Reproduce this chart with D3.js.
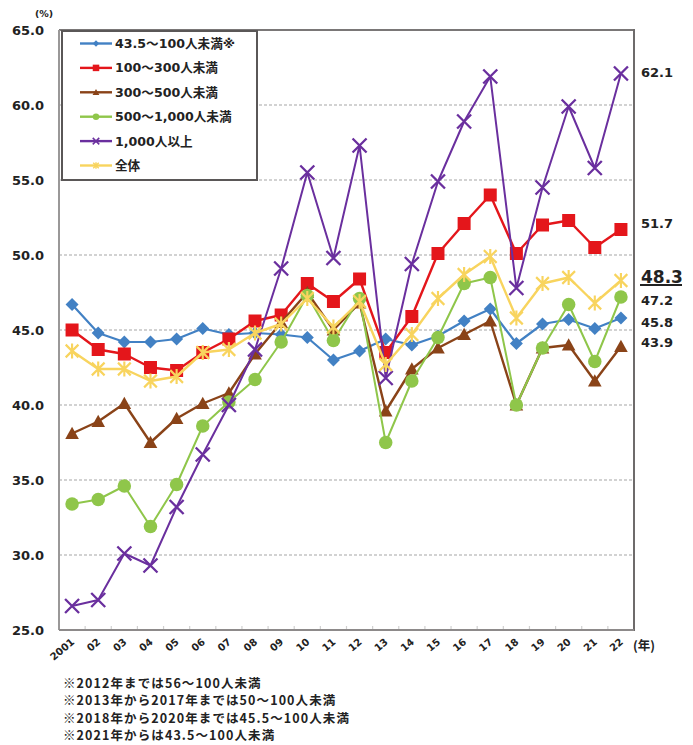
<!DOCTYPE html>
<html>
<head>
<meta charset="utf-8">
<script src="https://cdn.jsdelivr.net/npm/d3@7"></script>
<style>
  html, body { margin: 0; padding: 0; background: #fff; }
  svg { display: block; }
  text { font-family: "DejaVu Sans", "Noto Sans CJK JP", sans-serif; fill: #222; }
  .jp { font-family: "Noto Sans CJK JP", "DejaVu Sans", sans-serif; }
</style>
</head>
<body>
<svg id="chart" width="682" height="745"></svg>
<script>
// Categories (survey years)
const years = ["2001","02","03","04","05","06","07","08","09","10","11","12","13","14","15","16","17","18","19","20","21","22"];

// Series names (legend order)
const seriesNames = ["43.5～100人未満※","100～300人未満","300～500人未満","500～1,000人未満","1,000人以上","全体"];

// Series values (%)
const s100   = [46.7,44.8,44.2,44.2,44.4,45.1,44.7,44.8,44.7,44.5,43.0,43.6,44.4,44.0,44.6,45.6,46.4,44.1,45.4,45.7,45.1,45.8];
const s300   = [45.0,43.7,43.4,42.5,42.3,43.5,44.4,45.6,46.0,48.1,46.9,48.4,43.5,45.9,50.1,52.1,54.0,50.1,52.0,52.3,50.5,51.7];
const s500   = [38.1,38.9,40.1,37.5,39.1,40.1,40.8,43.4,45.5,47.5,45.0,46.8,39.6,42.4,43.8,44.7,45.6,40.0,43.8,44.0,41.6,43.9];
const s1000  = [33.4,33.7,34.6,31.9,34.7,38.6,40.2,41.7,44.2,47.3,44.3,47.1,37.5,41.6,44.5,48.1,48.5,40.0,43.8,46.7,42.9,47.2];
const sOver  = [26.6,27.0,30.1,29.3,33.2,36.7,40.0,43.7,49.1,55.5,49.8,57.3,41.8,49.4,54.9,58.9,61.9,47.8,54.5,59.9,55.8,62.1];
const sTotal = [43.6,42.4,42.4,41.6,41.9,43.5,43.7,44.8,45.4,47.1,45.2,46.9,42.7,44.7,47.1,48.7,49.9,45.8,48.1,48.5,46.8,48.3];

// Y axis tick values and the latest-year labels on the right
const yTicks = [25,30,35,40,45,50,55,60,65];
const endLabels = ["62.1","51.7","48.3","47.2","45.8","43.9"];
const notes = [
  "※2012年までは56～100人未満",
  "※2013年から2017年までは50～100人未満",
  "※2018年から2020年までは45.5～100人未満",
  "※2021年からは43.5～100人未満"
];

const series = [
  { name: seriesNames[0], values: s100,   color: "#4281c4", marker: "diamond",  lw: 2.2 },
  { name: seriesNames[1], values: s300,   color: "#e4161b", marker: "square",   lw: 2.4 },
  { name: seriesNames[2], values: s500,   color: "#8a4318", marker: "triangle", lw: 2.4 },
  { name: seriesNames[3], values: s1000,  color: "#8fc64a", marker: "circle",   lw: 2.0 },
  { name: seriesNames[4], values: sOver,  color: "#6a2f9e", marker: "cross",    lw: 2.0 },
  { name: seriesNames[5], values: sTotal, color: "#f8d45e", marker: "star",     lw: 2.4 }
];

const svg = d3.select("#chart");
const L = 59, R = 634, T = 30, B = 630;

const x = d3.scaleBand().domain(years).range([L, R]).padding(0);
const cx = d => x(d) + x.bandwidth() / 2;
const y = d3.scaleLinear().domain([25, 65]).range([B, T]);

// Dotted gridlines
svg.append("g").selectAll("line")
  .data(yTicks.filter(v => v > 25 && v < 65))
  .join("line")
  .attr("x1", L).attr("x2", R)
  .attr("y1", d => y(d)).attr("y2", d => y(d))
  .attr("stroke", "#c4c4c4").attr("stroke-width", 1.6)
  .attr("stroke-dasharray", "3,2");

// Small category separators on the x axis
svg.append("g").selectAll("line")
  .data(years.slice(1))
  .join("line")
  .attr("x1", d => x(d)).attr("x2", d => x(d))
  .attr("y1", B).attr("y2", B - 4)
  .attr("stroke", "#d0d0d0").attr("stroke-width", 1.2);

// Plot frame
svg.append("line").attr("x1", L).attr("x2", R).attr("y1", T).attr("y2", T)
  .attr("stroke", "#7a7777").attr("stroke-width", 2);
svg.append("line").attr("x1", R).attr("x2", R).attr("y1", T - 1).attr("y2", B + 1)
  .attr("stroke", "#6e6b6b").attr("stroke-width", 2);
svg.append("line").attr("x1", L).attr("x2", L).attr("y1", T).attr("y2", B)
  .attr("stroke", "#9a9898").attr("stroke-width", 2);
svg.append("line").attr("x1", L).attr("x2", R).attr("y1", B).attr("y2", B)
  .attr("stroke", "#8d8a8a").attr("stroke-width", 2);

// Y axis labels
const yAxis = d3.axisLeft(y).tickValues(yTicks).tickSize(0).tickPadding(0).tickFormat(d3.format(".1f"));
const gy = svg.append("g").attr("transform", `translate(${L - 15},0)`).call(yAxis);
gy.select(".domain").remove();
gy.selectAll("text").attr("font-size", 13).attr("font-weight", "bold")
  .attr("font-family", "DejaVu Sans, sans-serif").attr("fill", "#222");

svg.append("text").attr("x", 44).attr("y", 17).attr("text-anchor", "middle")
  .attr("font-size", 9.5).attr("font-weight", "bold").text("(%)");

// X axis labels, rotated
const xAxis = d3.axisBottom(x).tickSize(0).tickPadding(0);
const gx = svg.append("g").attr("transform", `translate(0,${B})`).call(xAxis);
gx.select(".domain").remove();
gx.selectAll(".tick text")
  .attr("font-size", 10).attr("font-weight", "bold")
  .attr("font-family", "DejaVu Sans, sans-serif").attr("fill", "#222")
  .attr("text-anchor", "end")
  .attr("dy", 0).attr("y", 0)
  .attr("transform", "translate(3,13) rotate(-40)");

svg.append("text").attr("x", 633).attr("y", 650)
  .attr("class", "jp").attr("font-size", 12.5).attr("font-weight", "bold").text("(年)");

// Marker drawing
function drawMarker(g, type, color, s) {
  const r = s / 2;
  if (type === "diamond") {
    g.append("path").attr("d", `M0,${-r}L${r},0L0,${r}L${-r},0Z`).attr("fill", color);
  } else if (type === "square") {
    g.append("rect").attr("x", -r).attr("y", -r).attr("width", s).attr("height", s).attr("fill", color);
  } else if (type === "triangle") {
    g.append("path").attr("d", `M0,${-r * 1.05}L${r * 1.05},${r * 0.85}L${-r * 1.05},${r * 0.85}Z`).attr("fill", color);
  } else if (type === "circle") {
    g.append("circle").attr("r", r).attr("fill", color);
  } else if (type === "cross") {
    g.append("path").attr("d", `M${-r},${-r}L${r},${r}M${-r},${r}L${r},${-r}`)
      .attr("stroke", color).attr("stroke-width", Math.max(1.5, s / 6)).attr("fill", "none");
  } else if (type === "star") {
    const q = r * 0.85;
    g.append("path").attr("d", `M${-q},${-q}L${q},${q}M${-q},${q}L${q},${-q}M0,${-r}L0,${r}`)
      .attr("stroke", color).attr("stroke-width", Math.max(1.4, s / 7)).attr("fill", "none");
  }
}

const markerSize = { diamond: 13, square: 13, triangle: 13, circle: 13.5, cross: 14, star: 15 };

// Series lines and markers
const line = d3.line().x((d, i) => cx(years[i])).y(d => y(d));
series.forEach(s => {
  const g = svg.append("g");
  g.append("path").datum(s.values).attr("d", line)
    .attr("fill", "none").attr("stroke", s.color).attr("stroke-width", s.lw)
    .attr("stroke-linejoin", "round");
  s.values.forEach((v, i) => {
    const m = g.append("g").attr("transform", `translate(${cx(years[i])},${y(v)})`);
    drawMarker(m, s.marker, s.color, markerSize[s.marker]);
  });
});

// Legend
const lg = svg.append("g");
lg.append("rect").attr("x", 62).attr("y", 31).attr("width", 195).attr("height", 149)
  .attr("fill", "#fff").attr("stroke", "#5a5757").attr("stroke-width", 2);
series.forEach((s, i) => {
  const ly = 43.5 + i * 24.4;
  lg.append("line").attr("x1", 80).attr("x2", 112).attr("y1", ly).attr("y2", ly)
    .attr("stroke", s.color).attr("stroke-width", 2.4);
  const m = lg.append("g").attr("transform", `translate(96,${ly})`);
  drawMarker(m, s.marker, s.color, 6.5);
  lg.append("text").attr("x", 115).attr("y", ly + 4.5)
    .attr("font-size", 12.6).attr("font-weight", "bold").text(s.name);
});

// Latest-year value labels
const endY = [72, 223, 277, 300, 322, 342];
endLabels.forEach((t, i) => {
  const big = i === 2;
  svg.append("text").attr("x", 641).attr("y", endY[i])
    .attr("dominant-baseline", "central")
    .attr("font-size", big ? 17 : 13).attr("font-weight", "bold").text(t);
  if (big) {
    svg.append("line").attr("x1", 640).attr("x2", 684).attr("y1", 285).attr("y2", 285)
      .attr("stroke", "#222").attr("stroke-width", 1.8);
  }
});

// Footnotes
notes.forEach((t, i) => {
  svg.append("text").attr("class", "jp").attr("x", 63).attr("y", 688 + i * 17.3)
    .attr("font-size", 12.5).attr("letter-spacing", 1.1)
    .attr("font-weight", "bold").attr("fill", "#222").text(t);
});
</script>
</body>
</html>
